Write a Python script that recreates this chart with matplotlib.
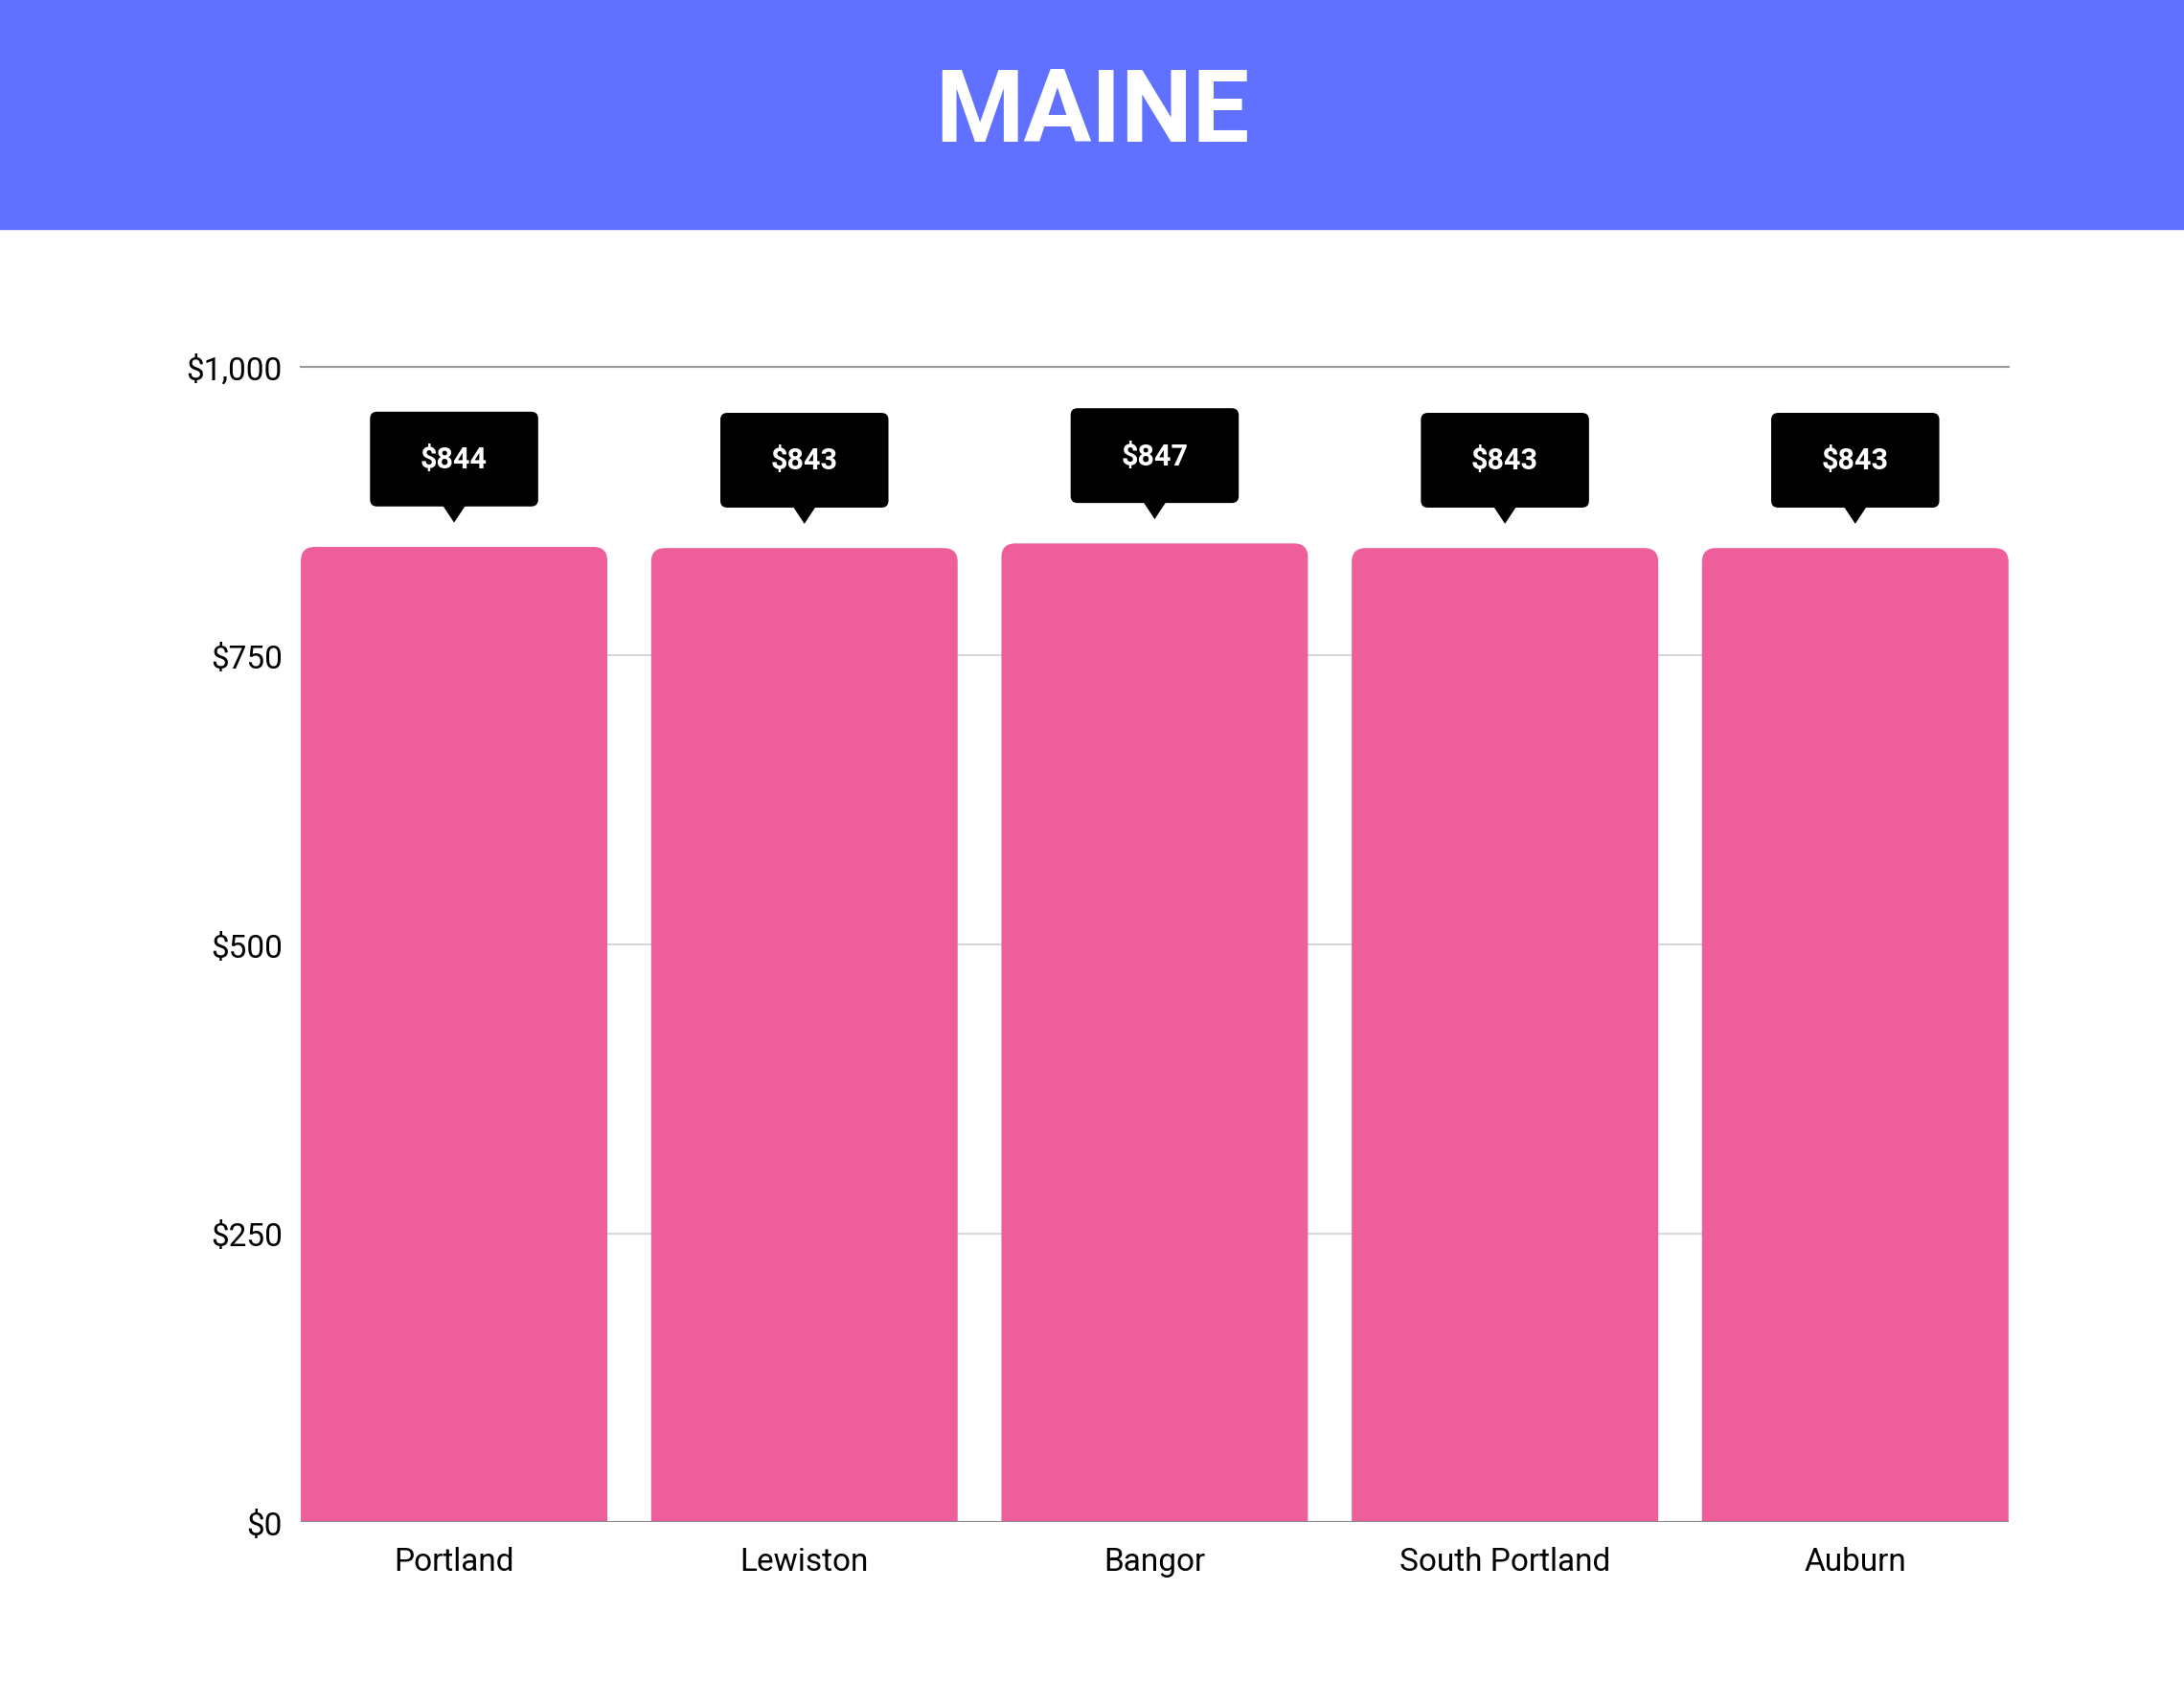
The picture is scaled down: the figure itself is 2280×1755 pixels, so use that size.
import matplotlib
matplotlib.use("Agg")
import matplotlib.pyplot as plt
from matplotlib.patches import FancyBboxPatch, Polygon, Rectangle

cities = ["Portland", "Lewiston", "Bangor", "South Portland", "Auburn"]
values = [844, 843, 847, 843, 843]
yticks = [0, 250, 500, 750, 1000]
ytick_labels = ["$0", "$250", "$500", "$750", "$1,000"]
title = "MAINE"

fig = plt.figure(figsize=(22.8, 17.56), dpi=100)
fig.patches.append(Rectangle((0, 1 - 165/1208), 1, 165/1208, transform=fig.transFigure,
                             color="#6070FF", zorder=0))
fig.text(0.5, 1 - 82/1208, title, ha="center", va="center", color="white",
         fontsize=76, fontweight="bold", family="Roboto")

ax = fig.add_axes([216/1568, 1 - 1094/1208, (1442-216)/1568, (1094-264)/1208])
w = 0.875
ax.set_xlim(-w/2, len(cities) - 1 + w/2)
ax.set_ylim(0, 1000)
for s in ax.spines.values():
    s.set_visible(False)
ax.axhline(0, color="#888888", lw=1.5, zorder=3)
for t in yticks[1:-1]:
    ax.axhline(t, color="#d0d0d0", lw=1.2, zorder=0)
ax.axhline(1000, color="#999999", lw=1.5, zorder=0, clip_on=False)

asp = 300
for i, v in enumerate(values):
    ax.add_patch(FancyBboxPatch((i - w/2, -30), w, v + 30,
                 boxstyle="round,pad=0,rounding_size=0.04", mutation_aspect=asp,
                 fc="#EE5E9A", ec="none", zorder=2))
    bw = 0.48
    ax.add_patch(FancyBboxPatch((i - bw/2, v + 35), bw, 82,
                 boxstyle="round,pad=0,rounding_size=0.02", mutation_aspect=asp,
                 fc="black", ec="none", zorder=4, clip_on=False))
    ax.add_patch(Polygon([(i - 0.035, v + 37), (i + 0.035, v + 37), (i, v + 21)],
                 closed=True, fc="black", ec="none", zorder=4, clip_on=False))
    ax.text(i, v + 76, f"${v}", ha="center", va="center", color="white",
            fontsize=22, fontweight="bold", family="Roboto", zorder=5)

ax.set_xticks(range(len(cities)))
ax.set_xticklabels(cities, fontsize=24, family="Roboto")
ax.set_yticks(yticks)
ax.set_yticklabels(ytick_labels, fontsize=24, family="Roboto")
ax.tick_params(length=0, pad=14)
ax.tick_params(axis="x", pad=18)
fig.savefig("out.png", dpi=100, facecolor="white")
